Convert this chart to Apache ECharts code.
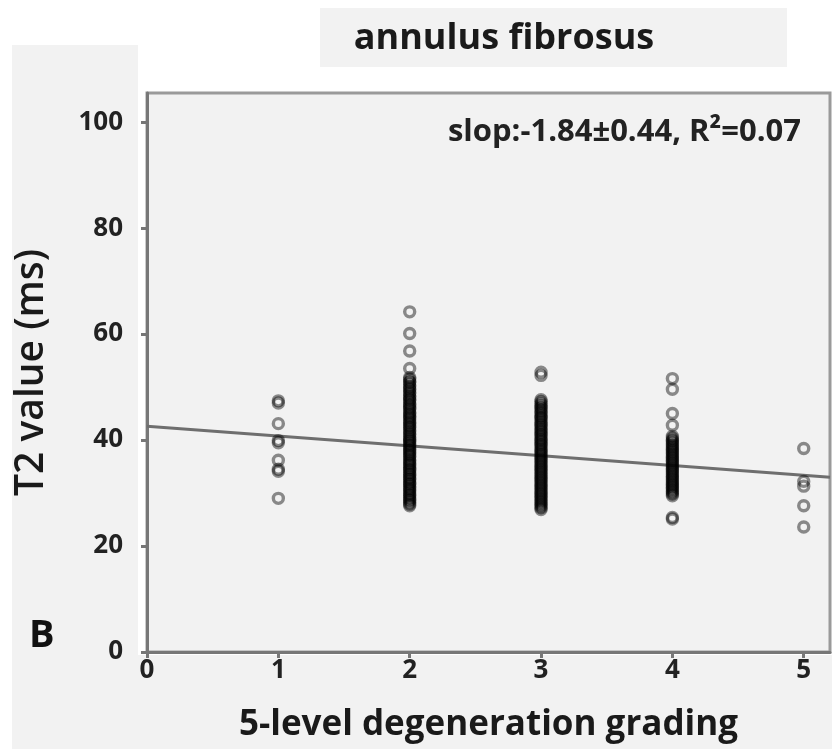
<!DOCTYPE html>
<html>
<head>
<meta charset="utf-8">
<title>annulus fibrosus</title>
<script src="https://cdn.jsdelivr.net/npm/echarts@6/dist/echarts.min.js"></script>
<style>
  html, body { margin: 0; padding: 0; background: #ffffff; }
  #chart { width: 832px; height: 749px; }
</style>
</head>
<body>
<div id="chart"></div>
<script>
// ---- data ----
const grades = [1, 2, 3, 4, 5];
const xTicks = [0, 1, 2, 3, 4, 5];
const yTicks = [0, 20, 40, 60, 80, 100];

// T2 values (ms) per grade (dense bands estimated from the solid columns)
const grade1 = [47.4, 47.0, 43.1, 39.9, 39.5, 36.2, 34.5, 34.1, 29.0];
const grade2 = [64.2, 60.1, 56.8, 53.5, 51.8, 51.5, 51.0, 50.9, 50.4, 50.1, 49.7, 49.5, 49.0, 48.8,
  48.3, 48.1, 47.6, 47.5, 47.0, 46.7, 46.4, 46.0, 45.8, 45.3, 45.1, 44.7, 44.4, 44.1, 43.8, 43.4,
  43.2, 42.8, 42.5, 42.3, 41.9, 41.6, 41.2, 41.0, 40.6, 40.3, 40.0, 39.8, 39.4, 39.1, 38.9, 38.5,
  38.2, 37.9, 37.6, 37.3, 37.0, 36.8, 36.3, 36.1, 35.7, 35.5, 35.2, 34.8, 34.5, 34.3, 33.9, 33.6,
  33.4, 33.0, 32.7, 32.5, 32.1, 31.8, 31.6, 31.2, 30.9, 30.6, 30.4, 30.0, 29.7, 29.5, 29.1, 28.8,
  28.6, 28.2, 27.9, 27.6];
const grade3 = [52.8, 52.2, 47.6, 47.3, 46.9, 46.6, 46.2, 46.0, 45.6, 45.3, 45.0, 44.6, 44.3, 44.1,
  43.7, 43.4, 43.0, 42.8, 42.4, 42.1, 41.8, 41.5, 41.1, 40.9, 40.5, 40.2, 39.9, 39.6, 39.2, 39.0,
  38.6, 38.3, 38.0, 37.7, 37.4, 37.1, 36.8, 36.5, 36.2, 35.9, 35.6, 35.3, 35.0, 34.7, 34.4, 34.1,
  33.8, 33.5, 33.2, 32.9, 32.6, 32.3, 32.0, 31.7, 31.4, 31.1, 30.8, 30.5, 30.2, 29.9, 29.6, 29.3,
  29.0, 28.7, 28.4, 28.1, 27.8, 27.5, 27.2, 26.9];
const grade4 = [51.6, 49.6, 45.0, 42.8, 40.7, 40.4, 40.0, 39.8, 39.4, 39.1, 38.8, 38.5, 38.2, 37.9,
  37.6, 37.3, 37.0, 36.7, 36.4, 36.1, 35.8, 35.5, 35.2, 34.9, 34.6, 34.3, 34.0, 33.7, 33.4, 33.1,
  32.8, 32.5, 32.2, 31.9, 31.6, 31.3, 31.0, 30.7, 30.4, 30.1, 29.8, 29.5, 25.4, 25.1];
const grade5 = [38.4, 32.2, 31.3, 27.6, 23.6];

// fitted regression line end points
const fitX = [0, 5.2];
const fitY = [42.6, 33.0];

const titleText = 'annulus fibrosus';
const noteText = 'slop:-1.84\u00b10.44, R\u00b2=0.07';
const xName = '5-level degeneration grading';
const yName = 'T2 value (ms)';

const FONT = '"Open Sans", "DejaVu Sans", sans-serif';
const BG = '#f2f2f2';

function toPoints(grade, values) {
  return values.map(function (v) { return [grade, v]; });
}

const scatterData = []
  .concat(toPoints(grades[0], grade1))
  .concat(toPoints(grades[1], grade2))
  .concat(toPoints(grades[2], grade3))
  .concat(toPoints(grades[3], grade4))
  .concat(toPoints(grades[4], grade5));

const chart = echarts.init(document.getElementById('chart'));

const option = {
  backgroundColor: '#ffffff',
  animation: false,
  graphic: [
    // panel backgrounds (the figure is a patchwork of grey boxes on white)
    { type: 'rect', z: -10, shape: { x: 12, y: 45, width: 126, height: 704 }, style: { fill: BG } },
    { type: 'rect', z: -10, shape: { x: 12, y: 655, width: 820, height: 94 }, style: { fill: BG } },
    { type: 'rect', z: -10, shape: { x: 320, y: 8, width: 467, height: 59 }, style: { fill: BG } },
    {
      type: 'text', left: 29, top: 617, z: 10,
      style: { text: 'B', font: 'bold 38px ' + FONT, fill: '#111' }
    }
  ],
  title: [
    {
      text: titleText, left: 499, top: 16, textAlign: 'center',
      textStyle: { fontFamily: FONT, fontWeight: 'bold', fontSize: 36, color: '#1a1a1a' }
    },
    {
      text: noteText, right: 26, top: 112,
      textStyle: { fontFamily: FONT, fontWeight: 'bold', fontSize: 31, color: '#222' }
    }
  ],
  grid: {
    left: 147, top: 93, right: 2, bottom: 97,
    outerBoundsMode: 'none', containLabel: false,
    show: true, backgroundColor: BG, borderColor: '#9a9a9a', borderWidth: 3
  },
  xAxis: {
    type: 'value', min: 0, max: 5.2, interval: 1,
    name: xName, nameLocation: 'middle', nameGap: 56,
    nameTextStyle: { fontFamily: FONT, fontWeight: 'bold', fontSize: 35, color: '#1a1a1a' },
    axisLine: { show: true, lineStyle: { color: '#777', width: 3 } },
    axisTick: { show: true, length: 6, lineStyle: { color: '#777', width: 3 } },
    axisLabel: {
      fontFamily: FONT, fontWeight: 'bold', fontSize: 26, color: '#222', margin: 6,
      showMaxLabel: false,
      formatter: function (v) { return xTicks.indexOf(v) >= 0 ? String(v) : ''; }
    },
    splitLine: { show: false }
  },
  yAxis: {
    type: 'value', min: 0, max: 105.5, interval: 20,
    name: yName, nameLocation: 'middle', nameGap: 96,
    nameTextStyle: { fontFamily: FONT, fontWeight: 600, fontSize: 39, color: '#1a1a1a' },
    axisLine: { show: true, lineStyle: { color: '#777', width: 3 } },
    axisTick: { show: true, length: 6, lineStyle: { color: '#777', width: 3 } },
    axisLabel: {
      fontFamily: FONT, fontWeight: 'bold', fontSize: 26, color: '#222', margin: 24,
      showMaxLabel: false,
      formatter: function (v) { return yTicks.indexOf(v) >= 0 ? String(v) : ''; }
    },
    splitLine: { show: false }
  },
  series: [
    {
      type: 'scatter',
      data: scatterData,
      symbol: 'circle',
      symbolSize: 10,
      itemStyle: { color: 'rgba(0,0,0,0)', borderColor: 'rgba(0,0,0,0.55)', borderWidth: 3.4 },
      z: 3
    },
    {
      type: 'line',
      data: fitX.map(function (x, i) { return [x, fitY[i]]; }),
      symbol: 'none',
      lineStyle: { color: '#6e6e6e', width: 3 },
      z: 2
    }
  ]
};

chart.setOption(option);
</script>
</body>
</html>
